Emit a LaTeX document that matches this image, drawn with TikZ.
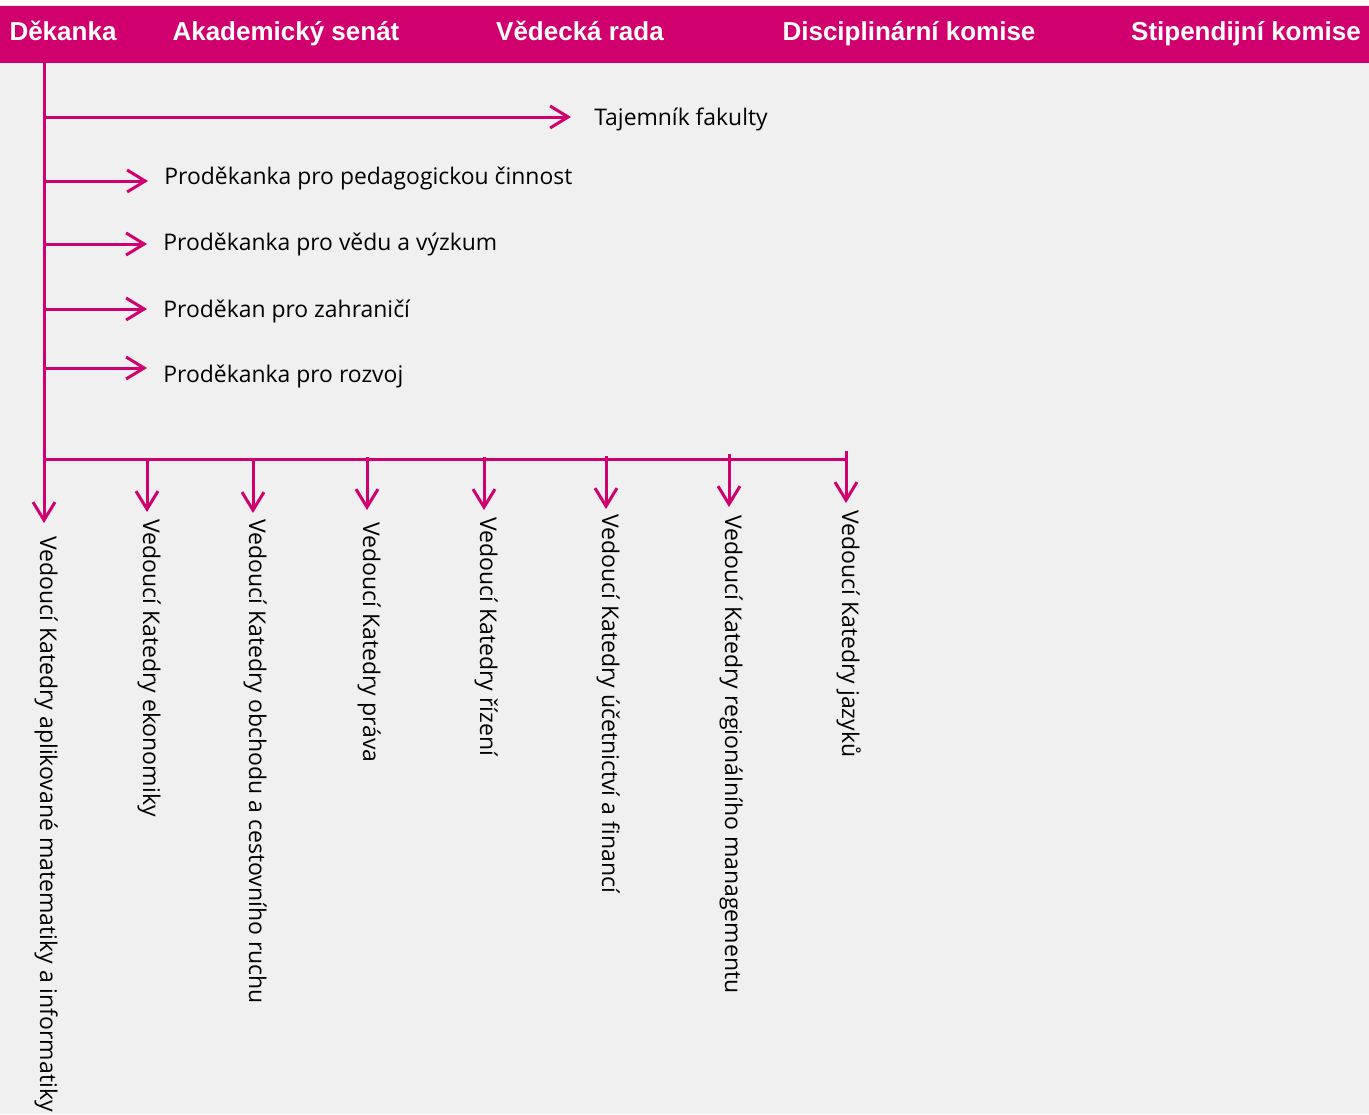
\documentclass[tikz,border=0pt]{standalone}
\usepackage{fontspec}
\setmainfont{Open Sans}
\newfontfamily\hdrfont{Liberation Sans}
\newfontfamily\bodyfont{Open Sans}
\usetikzlibrary{arrows.meta,calc}
\definecolor{mag}{HTML}{D1006F}
\definecolor{bgc}{HTML}{F0F0F0}
\begin{document}
\begin{tikzpicture}[x=0.5pt,y=-0.5pt,
  conn/.style={draw=mag,line width=1.5pt},
  arr/.style={conn,-{Straight Barb[length=9pt,width=11pt]}},
  hdr/.style={text=white,font=\hdrfont\bfseries\fontsize{13pt}{15pt}\selectfont,inner sep=0pt,anchor=base},
  role/.style={font=\bodyfont\fontsize{11.45pt}{13pt}\selectfont,anchor=base west,inner sep=0pt},
  dept/.style={font=\bodyfont\fontsize{11.5pt}{13pt}\selectfont,anchor=base west,inner sep=0pt,rotate=-90}
]
\useasboundingbox (0,0) rectangle (1369,1114);
\fill[bgc] (0,0) rectangle (1369,1114);
\fill[white] (0,0) rectangle (1369,5);
\fill[mag] (0,6) rectangle (1369,63);
% header
\node[hdr] (dek) at (63,40) {Děkanka};
\node[hdr] (sen) at (286,40) {Akademický senát};
\node[hdr] (vr) at (580,40) {Vědecká rada};
\node[hdr] (dk) at (909,40) {Disciplinární komise};
\node[hdr] (sk) at (1246,40) {Stipendijní komise};
% trunk coordinates
\coordinate (top) at (44,63);
\coordinate (h1) at (44,117);
\coordinate (h2) at (44,181);
\coordinate (h3) at (44,244);
\coordinate (h4) at (44,309);
\coordinate (h5) at (44,368);
\coordinate (hb) at (44,459);
\coordinate (hend) at (847,459);
% role texts
\node[role] (taj) at (594,125) {Tajemník fakulty};
\node[role] (ped) at (164,184) {Proděkanka pro pedagogickou činnost};
\node[role] (ved) at (163,250) {Proděkanka pro vědu a výzkum};
\node[role] (zah) at (163,317) {Proděkan pro zahraničí};
\node[role] (roz) at (163,382) {Proděkanka pro rozvoj};
\draw[arr,shorten >=11.5pt] (h1) -- (h1 -| taj.west);
\draw[arr,shorten >=8pt] (h2) -- (h2 -| ped.west);
\draw[arr,shorten >=8pt] (h3) -- (h3 -| ved.west);
\draw[arr,shorten >=8pt] (h4) -- (h4 -| zah.west);
\draw[arr,shorten >=8pt] (h5) -- (h5 -| roz.west);
% departments
\node[dept] (k1) at (40,536) {Vedoucí Katedry aplikované matematiky a informatiky};
\draw[arr,shorten >=6.5pt] (top) -- (top |- k1.west);
\draw[conn] (hb) -- (hend);
\foreach \nm/\x/\ys/\gap/\ts/\txt in {
  k2/147/458/7/519/{Vedoucí Katedry ekonomiky},
  k3/253/458/6/519/{Vedoucí Katedry obchodu a cestovního ruchu},
  k4/367/457/12/522/{Vedoucí Katedry práva},
  k5/484/457/7/517/{Vedoucí Katedry řízení},
  k6/606/456/5/514/{Vedoucí Katedry účetnictví a financí},
  k7/729/454/8/515/{Vedoucí Katedry regionálního managementu},
  k8/846/451/7/510/{Vedoucí Katedry jazyků}}
{
  \node[dept] (\nm) at ({\x-4},\ts) {\txt};
  \coordinate (\nm s) at (\x,\ys);
  \draw[arr,shorten >={\gap*0.5pt}] (\nm s) -- (\nm s |- \nm.west);
}
\end{tikzpicture}
\end{document}
